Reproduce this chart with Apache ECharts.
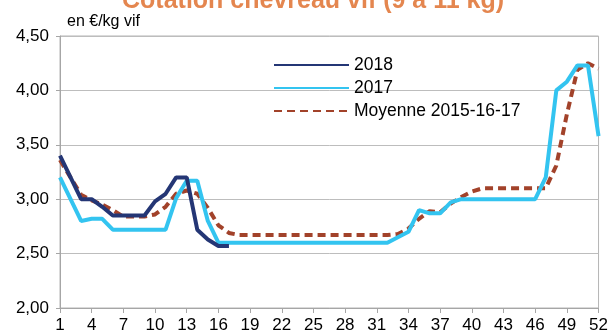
<!DOCTYPE html>
<html>
<head>
<meta charset="utf-8">
<script src="https://cdn.jsdelivr.net/npm/echarts@6/dist/echarts.min.js"></script>
<style>
  html, body { margin: 0; padding: 0; background: #fff; }
  #chart { width: 611px; height: 334px; }
</style>
</head>
<body>
<div id="chart"></div>
<script>
// Week numbers on the horizontal axis
const weeks = Array.from({ length: 52 }, (_, i) => String(i + 1));

// Prices in €/kg live weight, per week
const price2018 = [3.40, 3.20, 3.00, 3.00, 2.93, 2.85, 2.85, 2.85, 2.85, 2.98,
  3.05, 3.20, 3.20, 2.72, 2.63, 2.57, 2.57];

const price2017 = [3.20, 3.00, 2.80, 2.82, 2.82, 2.72, 2.72, 2.72, 2.72, 2.72,
  2.72, 3.01, 3.17, 3.17, 2.80, 2.60, 2.60, 2.60, 2.60, 2.60,
  2.60, 2.60, 2.60, 2.60, 2.60, 2.60, 2.60, 2.60, 2.60, 2.60,
  2.60, 2.60, 2.65, 2.70, 2.90, 2.87, 2.87, 2.97, 3.00, 3.00,
  3.00, 3.00, 3.00, 3.00, 3.00, 3.00, 3.20, 4.00, 4.08, 4.23,
  4.23, 3.58];

const priceAvg = [3.36, 3.20, 3.04, 2.99, 2.95, 2.90, 2.84, 2.84, 2.84, 2.86,
  2.93, 3.05, 3.08, 3.05, 2.92, 2.76, 2.69, 2.67, 2.67, 2.67,
  2.67, 2.67, 2.67, 2.67, 2.67, 2.67, 2.67, 2.67, 2.67, 2.67,
  2.67, 2.67, 2.68, 2.73, 2.82, 2.89, 2.88, 2.96, 3.02, 3.07,
  3.10, 3.10, 3.10, 3.10, 3.10, 3.10, 3.10, 3.31, 3.78, 4.19,
  4.25, 4.20];

const seriesNames = ['2018', '2017', 'Moyenne 2015-16-17'];

const FONT = 'Liberation Sans';
const chart = echarts.init(document.getElementById('chart'), null, { renderer: 'canvas' });

chart.setOption({
  animation: false,
  backgroundColor: '#ffffff',
  title: [
    {
      text: 'Cotation chevreau vif (9 à 11 kg)',
      left: 122,
      top: -11,
      padding: 0,
      textStyle: { color: '#E4864F', fontSize: 25, fontWeight: 'bold', fontFamily: FONT }
    },
    {
      text: 'en €/kg vif',
      left: 67,
      top: 14,
      padding: 0,
      textStyle: { color: '#000', fontSize: 16, fontWeight: 'normal', fontFamily: FONT }
    }
  ],
  legend: {
    orient: 'vertical',
    left: 273,
    top: 56,
    padding: 0,
    itemWidth: 75,
    itemHeight: 14,
    itemGap: 5,
    itemStyle: { opacity: 0 },
    textStyle: { color: '#000', fontSize: 17.5, fontFamily: FONT },
    data: seriesNames
  },
  grid: {
    left: 60, right: 10, top: 36, bottom: 26,
    show: true, borderColor: '#b5b5b5', borderWidth: 1
  },
  xAxis: {
    type: 'category',
    data: weeks,
    boundaryGap: false,
    axisLine: { lineStyle: { color: '#a6a6a6', width: 1 } },
    axisTick: { interval: 2, length: 5, lineStyle: { color: '#a6a6a6' } },
    axisLabel: { interval: 2, margin: 9, color: '#000', fontSize: 17, fontFamily: FONT },
    splitLine: { show: false }
  },
  yAxis: {
    type: 'value',
    min: 2,
    max: 4.5,
    interval: 0.5,
    axisLine: { show: true, lineStyle: { color: '#a6a6a6', width: 1 } },
    axisTick: { show: true, length: 4, lineStyle: { color: '#a6a6a6' } },
    axisLabel: {
      margin: 11, color: '#000', fontSize: 17, fontFamily: FONT,
      formatter: v => v.toFixed(2).replace('.', ',')
    },
    splitLine: { lineStyle: { color: '#bdbdbd', width: 1 } }
  },
  series: [
    {
      name: seriesNames[2],
      type: 'line',
      data: priceAvg,
      symbol: 'none',
      z: 2,
      lineStyle: { color: '#A2422A', width: 4, type: [8, 5] },
      itemStyle: { color: '#A2422A' }
    },
    {
      name: seriesNames[1],
      type: 'line',
      data: price2017,
      symbol: 'none',
      z: 3,
      lineStyle: { color: '#33C4F0', width: 4 },
      itemStyle: { color: '#33C4F0' }
    },
    {
      name: seriesNames[0],
      type: 'line',
      data: price2018,
      symbol: 'none',
      z: 4,
      lineStyle: { color: '#243675', width: 4 },
      itemStyle: { color: '#243675' }
    }
  ]
});
</script>
</body>
</html>
